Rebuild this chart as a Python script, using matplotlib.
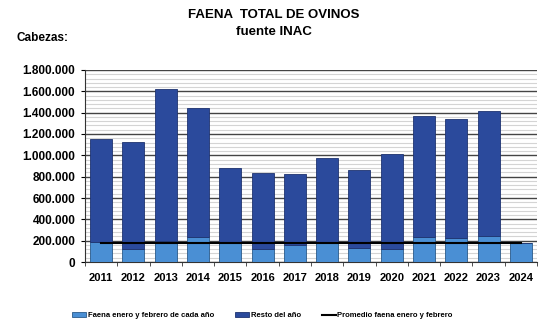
import matplotlib
matplotlib.use("Agg")
import matplotlib.pyplot as plt
from matplotlib.ticker import MultipleLocator, FuncFormatter
from matplotlib.patches import Patch
from matplotlib.lines import Line2D
import numpy as np

years = ["2011", "2012", "2013", "2014", "2015", "2016", "2017",
         "2018", "2019", "2020", "2021", "2022", "2023", "2024"]
ene_feb = [190000, 122000, 200000, 234000, 175000, 119000, 156000,
           181000, 131000, 125000, 237000, 228000, 240000, 175000]
total = [1157000, 1129000, 1625000, 1444000, 877000, 833000, 827000,
         973000, 858000, 1011000, 1373000, 1345000, 1413000, 175000]
promedio = 181000

resto = [t - e for t, e in zip(total, ene_feb)]

plt.rcParams['font.family'] = ['Liberation Sans', 'DejaVu Sans']

fig = plt.figure(figsize=(5.53, 3.33), dpi=100)
ax = fig.add_axes([0.1537, 0.2132, 0.8173, 0.5766])

x = np.arange(len(years))
light = "#4A8FD4"
dark = "#2B4A9C"
ax.bar(x, ene_feb, width=0.68, color=light, edgecolor="#2A5A8A", linewidth=0.6, zorder=3)
ax.bar(x, resto, bottom=ene_feb, width=0.68, color=dark, edgecolor="#1E3370", linewidth=0.6, zorder=3)
ax.plot([x[0], x[-1]], [promedio, promedio], color="black", linewidth=1.5, zorder=4)

ax.set_xlim(-0.5, len(years) - 0.5)
ax.set_ylim(0, 1800000)
ax.yaxis.set_major_locator(MultipleLocator(200000))
ax.yaxis.set_minor_locator(MultipleLocator(40000))
ax.yaxis.set_major_formatter(FuncFormatter(lambda v, p: f"{int(v):,}".replace(",", ".")))
ax.grid(axis="y", which="minor", color="#d4d4d4", linewidth=0.8, zorder=0)
ax.grid(axis="y", which="major", color="#444444", linewidth=1.0, zorder=1)

ax.set_xticks(x)
ax.set_xticklabels(years, fontsize=8, fontweight="bold")
ax.set_xticks(np.arange(-0.5, len(years), 1), minor=True)
ax.tick_params(axis="x", which="major", length=0, pad=8)
ax.tick_params(axis="x", which="minor", length=3, color="#333333")
ax.tick_params(axis="y", which="major", length=3, labelsize=8.5, pad=4)
ax.tick_params(axis="y", which="minor", length=0)
for lab in ax.get_yticklabels():
    lab.set_fontweight("bold")

for s in ["top", "right"]:
    ax.spines[s].set_visible(False)
ax.spines["left"].set_color("#333333")
ax.spines["bottom"].set_color("#333333")

fig.text(0.4955, 0.955, "FAENA  TOTAL DE OVINOS", ha="center", va="center",
         fontsize=9.5, fontweight="bold")
fig.text(0.4955, 0.905, "fuente INAC", ha="center", va="center",
         fontsize=9.5, fontweight="bold")
fig.text(0.03, 0.885, "Cabezas:", ha="left", va="center", fontsize=8.5, fontweight="bold")

handles = [Patch(facecolor=light, edgecolor="#2A5A8A", linewidth=0.6),
           Patch(facecolor=dark, edgecolor="#1E3370", linewidth=0.6),
           Line2D([0], [0], color="black", linewidth=1.5)]
labels = ["Faena enero y febrero de cada año", "Resto del año", "Promedio faena enero y febrero"]
fig.legend(handles, labels, loc="center", bbox_to_anchor=(0.475, 0.052), ncol=3,
           frameon=False, prop={"size": 5.5, "weight": "bold"},
           handlelength=1.8, handleheight=0.6, handletextpad=0.2, columnspacing=2.8)

fig.savefig("out.png", dpi=100)
